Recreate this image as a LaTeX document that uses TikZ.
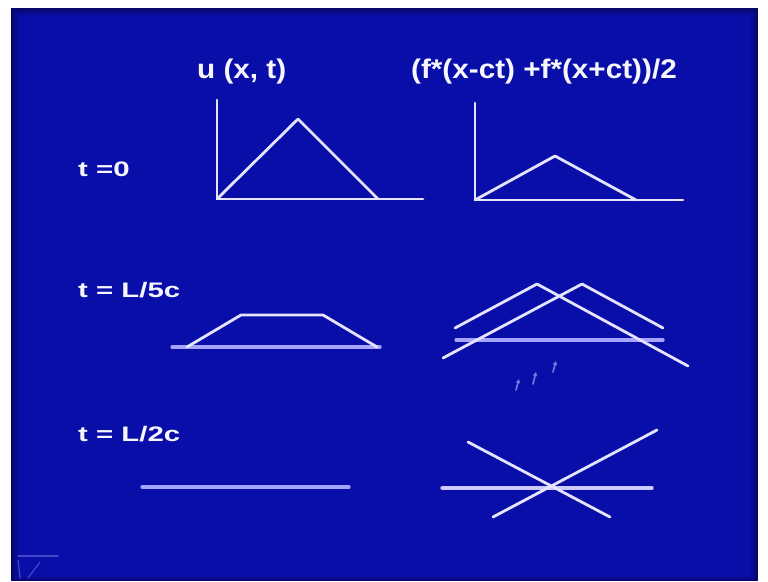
\documentclass[tikz,border=0pt]{standalone}
\usepackage{fontspec}
\setmainfont{Liberation Sans}
\usepackage{graphicx}
\usetikzlibrary{arrows.meta}
\definecolor{slide}{RGB}{10,14,168}
\definecolor{slideedge}{RGB}{6,8,105}
\definecolor{chalk}{RGB}{228,228,255}
\definecolor{lav}{RGB}{165,165,255}
\definecolor{inkw}{RGB}{246,246,255}
\definecolor{faint}{RGB}{120,120,230}
\definecolor{logo}{RGB}{70,70,200}
\begin{document}
\begin{tikzpicture}[x=1pt,y=-1pt,line cap=round,line join=round,
  curve/.style={draw=chalk,line width=2.8pt},
  axisline/.style={draw=lav,line width=3.2pt},
  head/.style={text=inkw,font=\fontsize{27}{31}\selectfont\bfseries,inner sep=0pt,anchor=base west},
  lab/.style={text=inkw,font=\fontsize{21}{25}\selectfont\bfseries,inner sep=0pt,anchor=base west},
  pointer/.style={draw=faint,line width=1.6pt,-{Triangle[length=4pt,width=4pt]}}]
\useasboundingbox (0,0) rectangle (768,581);
\fill[white] (0,0) rectangle (768,581);
\fill[slideedge] (11,8) rectangle (758,581);
\fill[slideedge!70!slide] (13,10) rectangle (756,580);
\fill[slideedge!40!slide] (15,12) rectangle (754,579);
\fill[slide] (18,15) rectangle (751,577);

% headings
\node[head] (h1) at (197,78) {\scalebox{1.1}[1]{u (x, t)}};
\node[head,anchor=base] (h2) at (544,78) {\scalebox{1.1}[1]{(f*(x-ct) +f*(x+ct))/2}};

% row labels
\node[lab] (l1) at (78,176) {\scalebox{1.4}[1]{t =0}};
\node[lab] (l2) at (78,297) {\scalebox{1.4}[1]{t = L/5c}};
\node[lab] (l3) at (78,441) {\scalebox{1.4}[1]{t = L/2c}};

% t = 0, left
\coordinate (a1) at (217,100);
\coordinate (a0) at (217,199);
\coordinate (a2) at (423,199);
\coordinate (ap) at (298,119);
\coordinate (ab) at (378,199);
\draw[curve] (a1) -- (a0) -- (a2);
\draw[curve] (a0) -- (ap) -- (ab);

% t = 0, right
\coordinate (b1) at (475,103);
\coordinate (b0) at (475,200);
\coordinate (b2) at (683,200);
\coordinate (bp) at (555,156);
\coordinate (bb) at (636,200);
\draw[curve] (b1) -- (b0) -- (b2);
\draw[curve] (b0) -- (bp) -- (bb);

% t = L/5c, left
\coordinate (c0) at (172,347);
\coordinate (c3) at (380,347);
\coordinate (t0) at (187,347);
\coordinate (t1) at (241,315);
\coordinate (t2) at (323,315);
\coordinate (t3) at (377,347);
\draw[axisline] (c0) -- (c3);
\draw[curve] (t0) -- (t1) -- (t2) -- (t3);

% t = L/5c, right
\coordinate (d0) at (456,340);
\coordinate (d1) at (663,340);
\draw[axisline] (d0) -- (d1);
\coordinate (pa0) at (455,328);
\coordinate (pa1) at (537,284);
\coordinate (pa2) at (688,366);
\coordinate (pb0) at (443,358);
\coordinate (pb1) at (582,284);
\coordinate (pb2) at (663,328);
\draw[curve] (pa0) -- (pa1) -- (pa2);
\draw[curve] (pb0) -- (pb1) -- (pb2);

% small pointer marks
\coordinate (m1a) at (516,390); \coordinate (m1b) at (519,379);
\coordinate (m2a) at (533,384); \coordinate (m2b) at (536,372);
\coordinate (m3a) at (553,372); \coordinate (m3b) at (556,361);
\draw[pointer] (m1a) -- (m1b);
\draw[pointer] (m2a) -- (m2b);
\draw[pointer] (m3a) -- (m3b);

% t = L/2c, left
\coordinate (e0) at (142,487);
\coordinate (e1) at (349,487);
\draw[axisline] (e0) -- (e1);

% t = L/2c, right
\coordinate (g0) at (442,488);
\coordinate (g1) at (652,488);
\draw[axisline,draw=chalk!60!lav] (g0) -- (g1);
\coordinate (x1) at (468,442);
\coordinate (x2) at (610,517);
\coordinate (x3) at (493,517);
\coordinate (x4) at (657,430);
\draw[curve] (x1) -- (x2);
\draw[curve] (x3) -- (x4);

% faint logo bottom-left
\coordinate (z1) at (18,556); \coordinate (z2) at (58,556);
\coordinate (z3) at (18,560); \coordinate (z4) at (20,578);
\coordinate (z5) at (40,562); \coordinate (z6) at (28,578);
\draw[logo,line width=1.2pt] (z1) -- (z2);
\draw[logo,line width=1.2pt] (z3) -- (z4);
\draw[logo,line width=1.2pt] (z5) -- (z6);
\end{tikzpicture}
\end{document}
